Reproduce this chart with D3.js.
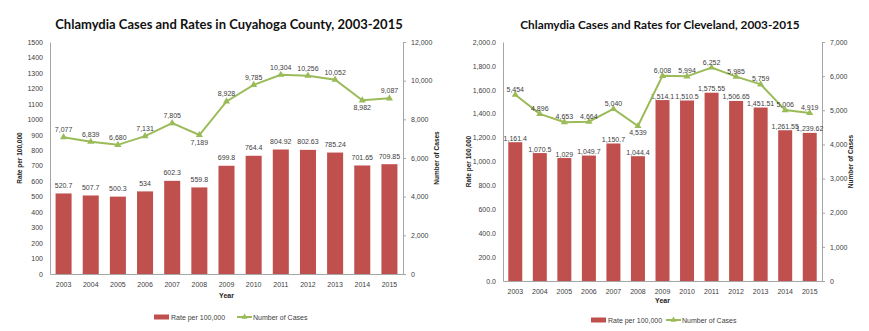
<!DOCTYPE html>
<html>
<head>
<meta charset="utf-8">
<script src="https://cdn.jsdelivr.net/npm/d3@7"></script>
<style>
  body { margin: 0; background: #fff; }
  svg text { font-family: "Liberation Sans", Arial, sans-serif; }
  .title { font-family: Lato, "Open Sans", sans-serif; font-weight: bold; fill: #111; }
</style>
</head>
<body>
<div id="chartDiv"></div>
<script>
var width = 869, height = 331;

// shared categories
var years = ["2003", "2004", "2005", "2006", "2007", "2008", "2009", "2010", "2011", "2012", "2013", "2014", "2015"];

// Cuyahoga County
var countyRates = [520.7, 507.7, 500.3, 534, 602.3, 559.8, 699.8, 764.4, 804.92, 802.63, 785.24, 701.65, 709.85];
var countyCases = [7077, 6839, 6680, 7131, 7805, 7189, 8928, 9785, 10304, 10256, 10052, 8982, 9087];
var countyRateTicks = [0, 100, 200, 300, 400, 500, 600, 700, 800, 900, 1000, 1100, 1200, 1300, 1400, 1500];
var countyCaseTicks = [0, 2000, 4000, 6000, 8000, 10000, 12000];
var countyBelow = ["2008", "2014"];

// Cleveland
var cityRates = [1161.4, 1070.5, 1029, 1049.7, 1150.7, 1044.4, 1514.1, 1510.5, 1575.55, 1506.65, 1451.51, 1261.55, 1239.62];
var cityCases = [5454, 4896, 4653, 4664, 5040, 4539, 6008, 5994, 6252, 5985, 5759, 5006, 4919];
var cityRateTicks = [0, 200, 400, 600, 800, 1000, 1200, 1400, 1600, 1800, 2000];
var cityCaseTicks = [0, 1000, 2000, 3000, 4000, 5000, 6000, 7000];
var cityBelow = ["2008"];

var barColor = "#c0504d", lineColor = "#9bbb59", axisColor = "#a6a6a6", textColor = "#404040";

var svg = d3.select("#chartDiv")
    .append("svg")
    .attr("width", width)
    .attr("height", height);

var comma = d3.format(",");

function drawChart(opt) {
    var g = svg.append("g");
    var x = d3.scaleBand().domain(years).range([opt.left, opt.right]).paddingInner(opt.pad).paddingOuter(opt.pad / 2);
    var yL = d3.scaleLinear().domain([0, d3.max(opt.rateTicks)]).range([opt.bottom, opt.top]);
    var yR = d3.scaleLinear().domain([0, d3.max(opt.caseTicks)]).range([opt.bottom, opt.top]);
    var rows = years.map(function (y, i) { return { year: y, rate: opt.rates[i], cases: opt.cases[i] }; });
    var cx = function (d) { return x(d.year) + x.bandwidth() / 2; };

    g.append("text").attr("class", "title")
        .attr("x", opt.titleX).attr("y", opt.titleY)
        .attr("text-anchor", "middle")
        .style("font-size", opt.titleSize + "px")
        .text(opt.title);

    // left axis
    var la = g.append("g").attr("transform", "translate(" + opt.left + ",0)")
        .call(d3.axisLeft(yL).tickValues(opt.rateTicks).tickSize(0).tickPadding(7).tickFormat(opt.rateFmt));
    // right axis
    var ra = g.append("g").attr("transform", "translate(" + opt.right + ",0)")
        .call(d3.axisRight(yR).tickValues(opt.caseTicks).tickSize(3).tickPadding(5).tickFormat(comma));
    // bottom axis
    var ba = g.append("g").attr("transform", "translate(0," + opt.bottom + ")")
        .call(d3.axisBottom(x).tickSize(0).tickPadding(8));
    [la, ra, ba].forEach(function (a) {
        a.select(".domain").attr("stroke", axisColor);
        a.selectAll(".tick line").attr("stroke", axisColor);
        a.selectAll("text").attr("fill", textColor).style("font-size", "7px").style("font-family", "'Liberation Sans', Arial, sans-serif");
    });

    // bars
    g.append("g").selectAll("rect").data(rows).enter().append("rect")
        .attr("x", function (d) { return x(d.year); })
        .attr("width", x.bandwidth())
        .attr("y", function (d) { return yL(d.rate); })
        .attr("height", function (d) { return opt.bottom - yL(d.rate); })
        .attr("fill", barColor);

    g.append("g").selectAll("text").data(rows).enter().append("text")
        .attr("x", cx)
        .attr("y", function (d) { return yL(d.rate) - opt.barLabelOff; })
        .attr("text-anchor", "middle")
        .attr("fill", textColor)
        .style("font-size", "7px")
        .text(function (d) { return opt.rateLabel(d.rate); });

    // cases line
    var line = d3.line().x(cx).y(function (d) { return yR(d.cases); });
    g.append("path").datum(rows)
        .attr("d", line)
        .attr("fill", "none")
        .attr("stroke", lineColor)
        .attr("stroke-width", 2);

    g.append("g").selectAll("path").data(rows).enter().append("path")
        .attr("d", d3.symbol().type(d3.symbolTriangle).size(22))
        .attr("transform", function (d) { return "translate(" + cx(d) + "," + yR(d.cases) + ")"; })
        .attr("fill", lineColor);

    g.append("g").selectAll("text").data(rows).enter().append("text")
        .attr("x", cx)
        .attr("y", function (d) { return opt.below.indexOf(d.year) >= 0 ? yR(d.cases) + opt.belowOff : yR(d.cases) - opt.aboveOff; })
        .attr("text-anchor", "middle")
        .attr("fill", textColor)
        .style("font-size", "7px")
        .text(function (d) { return comma(d.cases); });

    // axis titles
    var mid = (opt.top + opt.bottom) / 2;
    g.append("text")
        .attr("transform", "translate(" + opt.leftTitleX + "," + mid + ") rotate(-90)")
        .attr("text-anchor", "middle").attr("fill", "#222")
        .style("font-size", "6.5px").style("font-weight", "bold")
        .text("Rate per 100,000");
    g.append("text")
        .attr("transform", "translate(" + opt.rightTitleX + "," + mid + ") rotate(-90)")
        .attr("text-anchor", "middle").attr("fill", "#222")
        .style("font-size", "6.5px").style("font-weight", "bold")
        .text("Number of Cases");
    g.append("text")
        .attr("x", (opt.left + opt.right) / 2).attr("y", opt.yearY)
        .attr("text-anchor", "middle").attr("fill", "#222")
        .style("font-size", "7px").style("font-weight", "bold")
        .text("Year");

    // legend
    var lg = g.append("g").attr("transform", "translate(" + opt.legendX + "," + opt.legendY + ")");
    lg.append("rect").attr("x", 0).attr("y", -2.5).attr("width", 15).attr("height", 5).attr("fill", barColor);
    lg.append("text").attr("x", 17).attr("y", 2.5).attr("fill", textColor).style("font-size", "7px").text("Rate per 100,000");
    lg.append("line").attr("x1", opt.legendGap).attr("x2", opt.legendGap + 15).attr("y1", 0).attr("y2", 0)
        .attr("stroke", lineColor).attr("stroke-width", 2);
    lg.append("path").attr("d", d3.symbol().type(d3.symbolTriangle).size(16))
        .attr("transform", "translate(" + (opt.legendGap + 7.5) + ",0)").attr("fill", lineColor);
    lg.append("text").attr("x", opt.legendGap + 16).attr("y", 2.5).attr("fill", textColor).style("font-size", "7px").text("Number of Cases");
}

drawChart({
    title: "Chlamydia Cases and Rates in Cuyahoga County, 2003-2015",
    titleX: 229, titleY: 29, titleSize: 13,
    left: 50, right: 403, top: 42, bottom: 274, pad: 0.41,
    rates: countyRates, cases: countyCases,
    rateTicks: countyRateTicks, caseTicks: countyCaseTicks,
    rateFmt: d3.format("d"),
    rateLabel: function (v) { return String(v); },
    below: countyBelow,
    barLabelOff: 5.5, aboveOff: 5, belowOff: 10,
    leftTitleX: 22, rightTitleX: 439, yearY: 298,
    legendX: 154, legendY: 317, legendGap: 83
});

drawChart({
    title: "Chlamydia Cases and Rates for Cleveland, 2003-2015",
    titleX: 660, titleY: 29, titleSize: 11.8,
    left: 503, right: 822, top: 42, bottom: 281, pad: 0.43,
    rates: cityRates, cases: cityCases,
    rateTicks: cityRateTicks, caseTicks: cityCaseTicks,
    rateFmt: d3.format(",.1f"),
    rateLabel: function (v) { return d3.format(",")(v); },
    below: cityBelow,
    barLabelOff: 1.5, aboveOff: 3, belowOff: 9,
    leftTitleX: 471, rightTitleX: 853, yearY: 303,
    legendX: 591, legendY: 320, legendGap: 75
});
</script>
</body>
</html>
